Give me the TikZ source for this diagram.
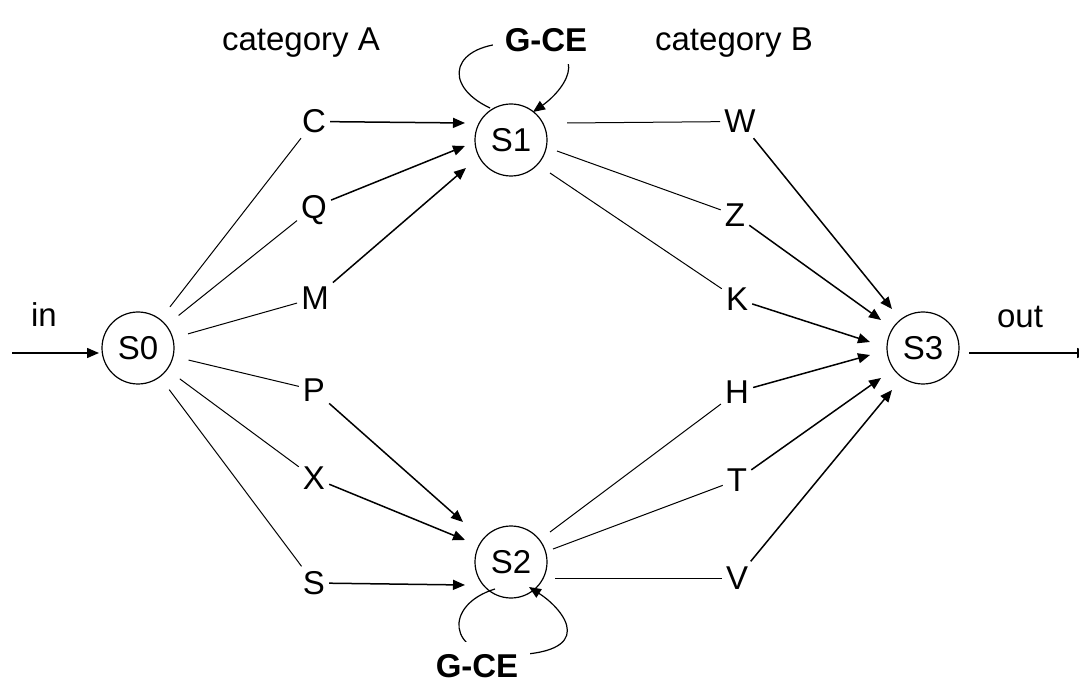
\documentclass[tikz,border=0pt]{standalone}
\usepackage{fontspec}
\setmainfont{Liberation Sans}
\usetikzlibrary{arrows.meta,calc}
\begin{document}
\begin{tikzpicture}[x=1pt,y=-1pt,
  every node/.style={font=\fontsize{33}{39}\selectfont},
  st/.style={circle,draw,line width=1.2pt,minimum size=72pt,inner sep=0pt,outer sep=0pt},
  lab/.style={inner sep=4pt,text height=24pt,text depth=1pt},
  ln/.style={line width=1pt},
  arr/.style={line width=1.5pt,-{Triangle[length=12pt,width=10pt]}},
  gce/.style={font=\fontsize{33}{39}\selectfont\bfseries,fill=white,inner sep=12pt,anchor=base}]
\useasboundingbox (0,0) rectangle (1079,684);

% states
\node[st,outer sep=16pt] (S0) at (138,348) {S0};
\node[st] (S1) at (511,140) {S1};
\node[st] (S2) at (511,562) {S2};
\node[st] (S3) at (923,348) {S3};

% category A labels
\node[lab] (C) at (314,121.5) {C};
\node[lab] (Q) at (314,207) {Q};
\node[lab] (M) at (315,298) {M};
\node[lab] (P) at (314,390) {P};
\node[lab] (X) at (314,478) {X};
\node[lab] (S) at (314,583) {S};
% category B labels
\node[lab] (W) at (740,121.5) {W};
\node[lab] (Z) at (735,215) {Z};
\node[lab] (K) at (737,299) {K};
\node[lab] (H) at (737,392) {H};
\node[lab] (T) at (737,480) {T};
\node[lab] (V) at (737,578) {V};

% headings
\node[anchor=base] (catA) at (301,51) {category A};
\node[anchor=base] (catB) at (734,51) {category B};
\node[anchor=base] (inL) at (44,327) {in};
\node[anchor=base] (outL) at (1020,328) {out};

% input / output
\coordinate (inS) at (12,353);
\coordinate (outE) at (1089,353);
\draw[arr] (inS) -- ($(S0)+(-39,5)$);
\draw[arr] ($(S3)+(46,5)$) -- (outE);

% S0 to category A
\foreach \n in {C,Q,M,P,X,S} \draw[ln] (S0) -- (\n);

% category A to S1 / S2
\draw[arr] (C) -- ($(S1)+(-46,-17)$);
\draw[arr] (Q) -- ($(S1)+(-46,6)$);
\draw[arr] (M) -- ($(S1)+(-45,28)$);
\draw[arr] (P) -- ($(S2)+(-48,-40)$);
\draw[arr] (X) -- ($(S2)+(-46,-22)$);
\draw[arr] (S) -- ($(S2)+(-46,23)$);

% S1 / S2 to category B
\draw[ln] ($(S1)+(56,-17)$) -- (W);
\draw[ln] ($(S1)+(46,11)$) -- (Z);
\draw[ln] ($(S1)+(39,33)$) -- (K);
\draw[ln] ($(S2)+(39,-30)$) -- (H);
\draw[ln] ($(S2)+(42,-13)$) -- (T);
\draw[ln] ($(S2)+(44,16)$) -- (V);

% category B to S3
\draw[arr] (W) -- ($(S3)+(-31,-39)$);
\draw[arr] (Z) -- ($(S3)+(-42,-28)$);
\draw[arr] (K) -- ($(S3)+(-53,-6)$);
\draw[arr] (H) -- ($(S3)+(-53,7)$);
\draw[arr] (T) -- ($(S3)+(-42,30)$);
\draw[arr] (V) -- ($(S3)+(-31,42)$);

% self loops
\draw[line width=1.2pt,-{Triangle[length=12pt,width=10pt]}]
  ($(S1)+(-21,-32)$) .. controls ($(S1)+(-70,-55)$) and ($(S1)+(-60,-97)$) .. ($(S1)+(4,-97)$)
  .. controls ($(S1)+(86,-97)$) and ($(S1)+(56,-52)$) .. ($(S1)+(22,-28)$);
\draw[line width=1.2pt,-{Triangle[length=12pt,width=10pt]}]
  ($(S2)+(-16,27)$) .. controls ($(S2)+(-68,43)$) and ($(S2)+(-63,93)$) .. ($(S2)+(-6,93)$)
  .. controls ($(S2)+(89,93)$) and ($(S2)+(54,48)$) .. ($(S2)+(18,25)$);

\node[gce] (g1) at (546,52) {G-CE};
\node[gce] (g2) at (477,677) {G-CE};
\end{tikzpicture}
\end{document}
